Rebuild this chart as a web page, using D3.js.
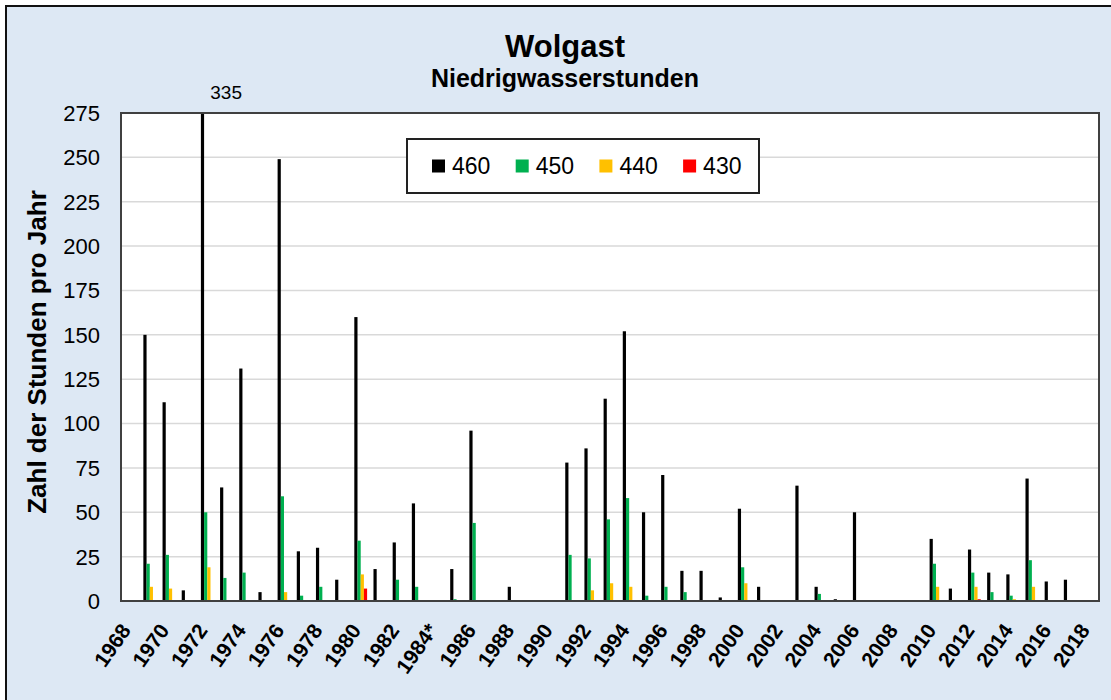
<!DOCTYPE html>
<html>
<head>
<meta charset="utf-8">
<script src="https://cdn.jsdelivr.net/npm/d3@7"></script>
<style>
  body { margin: 0; background: #fff; }
  text { font-family: "Liberation Sans", Arial, sans-serif; }
</style>
</head>
<body>
<div id="chart"></div>
<script>
// years 1968..2018, one entry per year
var years = ["1968","1969","1970","1971","1972","1973","1974","1975","1976","1977",
  "1978","1979","1980","1981","1982","1983","1984","1985","1986","1987",
  "1988","1989","1990","1991","1992","1993","1994","1995","1996","1997",
  "1998","1999","2000","2001","2002","2003","2004","2005","2006","2007",
  "2008","2009","2010","2011","2012","2013","2014","2015","2016","2017","2018"]

var seriesNames = ["460","450","440","430"]
var seriesColors = ["#000000","#00b050","#ffc000","#ff0000"]

var s460 = [0,150,112,6,335,64,131,5,249,28,
  30,12,160,18,33,55,0,18,96,0,
  8,0,0,78,86,114,152,50,71,17,
  17,2,52,8,0,65,8,1,50,0,
  0,0,35,7,29,16,15,69,11,12,0]
var s450 = [0,21,26,0,50,13,16,0,59,3,
  8,0,34,0,12,8,0,1,44,0,
  0,0,0,26,24,46,58,3,8,5,
  0,0,19,0,0,0,4,0,0,0,
  0,0,21,0,16,5,3,23,0,0,0]
var s440 = [0,8,7,0,19,0,0,0,5,0,
  0,0,15,0,0,0,0,0,0,0,
  0,0,0,0,6,10,8,0,0,0,
  0,0,10,0,0,0,0,0,0,0,
  0,0,8,0,8,0,1,8,0,0,0]
var s430 = [0,0,0,0,0,0,0,0,0,0,
  0,0,7,0,0,0,0,0,0,0,
  0,0,0,0,0,0,0,0,0,0,
  0,0,0,0,0,0,0,0,0,0,
  0,0,0,0,1,0,0,0,0,0,0]

var yTicks = [0,25,50,75,100,125,150,175,200,225,250,275]
var yMax = 275

var allSeries = [s460, s450, s440, s430]

var width = 1111, height = 700
var pLeft = 121, pRight = 1099, pTop = 113, pBottom = 601

var svg = d3.select("#chart").append("svg")
  .attr("width", width).attr("height", height)

// outer chart area
svg.append("rect")
  .attr("x", 6).attr("y", 6).attr("width", width).attr("height", height)
  .attr("fill", "#dde8f4").attr("stroke", "#111").attr("stroke-width", 2)

var x0 = d3.scaleBand().domain(years).range([pLeft, pRight])
var x1 = d3.scaleBand().domain(seriesNames).range([-6.4, 6.4])
var y = d3.scaleLinear().domain([0, yMax]).range([pBottom, pTop])

// plot area
svg.append("rect")
  .attr("x", pLeft).attr("y", pTop)
  .attr("width", pRight - pLeft).attr("height", pBottom - pTop)
  .attr("fill", "#fff")

// gridlines
svg.append("g").selectAll("line")
  .data(yTicks.slice(1))
  .enter().append("line")
  .attr("x1", pLeft).attr("x2", pRight)
  .attr("y1", function(d){ return y(d) }).attr("y2", function(d){ return y(d) })
  .attr("stroke", "#d9d9d9").attr("stroke-width", 1.5)

// bars
var groups = svg.append("g").selectAll("g")
  .data(years)
  .enter().append("g")
  .attr("transform", function(d){ return "translate(" + (x0(d) + x0.bandwidth() / 2) + ",0)" })

groups.selectAll("rect")
  .data(function(d, i){
    return seriesNames.map(function(s, k){ return {s: s, v: allSeries[k][i], c: seriesColors[k]} })
  })
  .enter().append("rect")
  .filter(function(d){ return d.v > 0 })
  .attr("x", function(d){ return x1(d.s) })
  .attr("width", x1.bandwidth())
  .attr("y", function(d){ return y(Math.min(d.v, yMax)) })
  .attr("height", function(d){ return pBottom - y(Math.min(d.v, yMax)) })
  .attr("fill", function(d){ return d.c })

// label for the clipped bar
years.forEach(function(yr, i){
  if (s460[i] > yMax) {
    svg.append("text")
      .attr("x", x0(yr) + x0.bandwidth() / 2 + 3)
      .attr("y", 99)
      .attr("font-size", 19)
      .attr("fill", "#000")
      .text(s460[i])
  }
})

// plot border
svg.append("rect")
  .attr("x", pLeft).attr("y", pTop)
  .attr("width", pRight - pLeft).attr("height", pBottom - pTop)
  .attr("fill", "none").attr("stroke", "#404040").attr("stroke-width", 2)

// y axis labels
svg.append("g").selectAll("text")
  .data(yTicks)
  .enter().append("text")
  .attr("x", 100)
  .attr("y", function(d){ return y(d) })
  .attr("dy", "0.36em")
  .attr("text-anchor", "end")
  .attr("font-size", 22)
  .attr("fill", "#000")
  .text(function(d){ return d })

// x axis labels, every other year
svg.append("g").selectAll("text")
  .data(years.filter(function(d, i){ return i % 2 == 0 }))
  .enter().append("text")
  .attr("transform", function(d){
    return "translate(" + (x0(d) + x0.bandwidth() / 2 - 5) + ",626) rotate(-55)"
  })
  .attr("dy", "0.36em")
  .attr("text-anchor", "end")
  .attr("font-size", 21)
  .attr("font-weight", "bold")
  .attr("fill", "#000")
  .text(function(d){ return d == "1984" ? "1984*" : d })

// titles
svg.append("text")
  .attr("x", 565).attr("y", 57)
  .attr("text-anchor", "middle")
  .attr("font-size", 31).attr("font-weight", "bold")
  .text("Wolgast")

svg.append("text")
  .attr("x", 565).attr("y", 87)
  .attr("text-anchor", "middle")
  .attr("font-size", 25).attr("font-weight", "bold")
  .text("Niedrigwasserstunden")

svg.append("text")
  .attr("transform", "translate(46,352) rotate(-90)")
  .attr("text-anchor", "middle")
  .attr("font-size", 26).attr("font-weight", "bold")
  .text("Zahl der Stunden pro Jahr")

// legend
var legend = svg.append("g")
legend.append("rect")
  .attr("x", 407).attr("y", 139).attr("width", 352).attr("height", 54)
  .attr("fill", "#fff").attr("stroke", "#222").attr("stroke-width", 2)

var items = legend.selectAll("g.item")
  .data(seriesNames)
  .enter().append("g")
  .attr("transform", function(d, i){ return "translate(" + (432 + i * 83.7) + ",166)" })

items.append("rect")
  .attr("x", 0).attr("y", -6.5).attr("width", 13).attr("height", 13)
  .attr("fill", function(d, i){ return seriesColors[i] })

items.append("text")
  .attr("x", 20).attr("dy", "0.36em")
  .attr("font-size", 23)
  .text(function(d){ return d })
</script>
</body>
</html>
